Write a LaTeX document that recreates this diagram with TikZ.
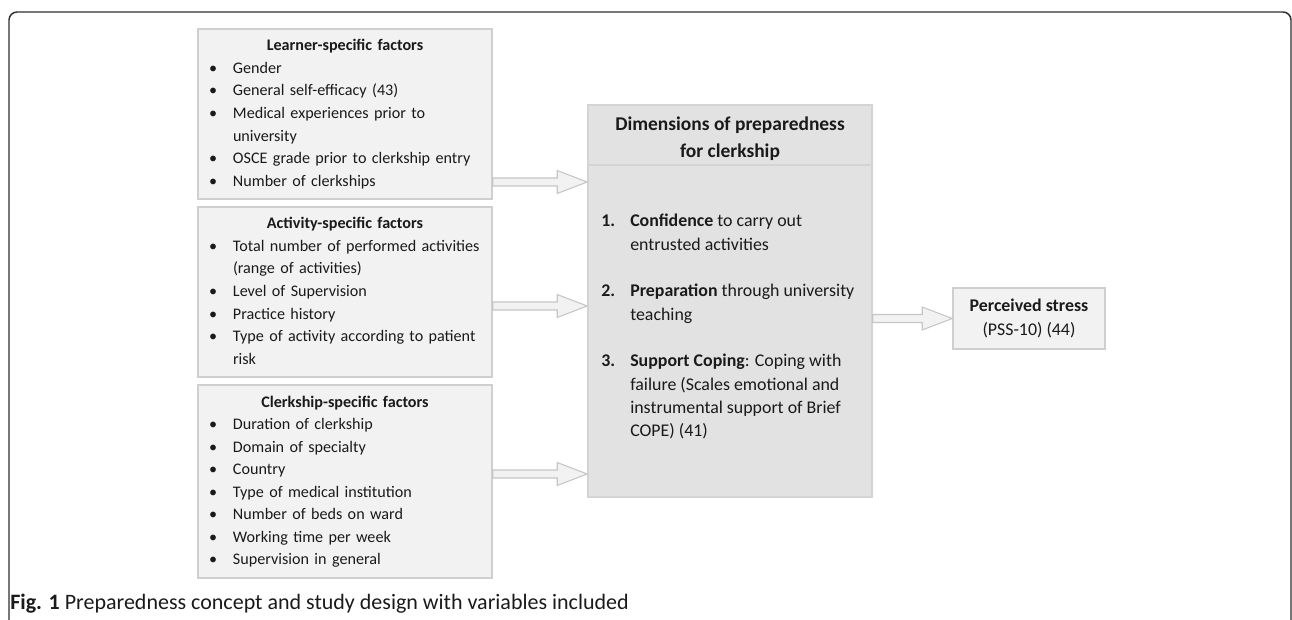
\documentclass[tikz,border=0pt]{standalone}
\usepackage{fontspec}
\setmainfont{Carlito}
\usetikzlibrary{calc}

\definecolor{boxfill}{HTML}{F2F2F2}
\definecolor{boxline}{HTML}{CFCFCF}
\definecolor{dimfill}{HTML}{E2E2E2}
\definecolor{dimline}{HTML}{D4D4D4}
\definecolor{arrfill}{HTML}{F2F2F2}
\definecolor{arrline}{HTML}{C6C6C6}
\definecolor{framecol}{HTML}{2E2E2E}
\definecolor{txt}{HTML}{1A1A1A}

\newcommand{\bul}{\strut\makebox[18pt][l]{\textbullet}}
\newcommand{\cont}{\strut\hspace*{18pt}}
\newcommand{\ftitle}[1]{\strut\makebox[\linewidth][c]{\textbf{#1}}}
\newcommand{\itemno}[1]{\strut\makebox[21.75pt][l]{\textbf{#1}}}
\newcommand{\itemcont}{\strut\hspace*{21.75pt}}

\begin{document}
\begin{tikzpicture}[x=0.75pt, y=-0.75pt, text=txt]
\tikzstyle{factor}=[draw=boxline, fill=boxfill, line width=1.1pt, minimum width=220.5pt,
  text width=204pt, inner xsep=8.25pt, inner ysep=0pt, align=left,
  font=\fontsize{12.1}{16.9}\selectfont]
\tikzstyle{dimbox}=[draw=dimline, fill=dimfill, line width=1.1pt, minimum width=213pt, minimum height=294pt]
\tikzstyle{stressbox}=[draw=boxline, fill=boxfill, line width=1.1pt, minimum width=114pt,
  minimum height=45.75pt, align=center, font=\fontsize{13.4}{18}\selectfont]
\tikzstyle{fatarrow}=[draw=arrline, fill=arrfill, line width=0.8pt,
  to path={let \p1=(\tikztostart), \p2=(\tikztotarget) in
    (\x1,\y1+3pt) -- (\x2-22.5pt,\y1+3pt) -- (\x2-22.5pt,\y1+8.6pt) -- (\x2,\y1)
    -- (\x2-22.5pt,\y1-8.6pt) -- (\x2-22.5pt,\y1-3pt) -- (\x1,\y1-3pt) -- cycle}]
\useasboundingbox (0,0) rectangle (1292,620);
% outer frame
\draw[framecol, line width=1.1pt, rounded corners=6pt] (9,640) -- (9,12) -- (1291,12) -- (1291,640);
% factor boxes
\node[factor, minimum height=127.5pt] (learner) at (345,114) {%
\ftitle{Learner-specific factors}\\
\bul Gender\\
\bul General self-efficacy (43)\\
\bul Medical experiences prior to\\
\cont university\\
\bul OSCE grade prior to clerkship entry\\
\bul Number of clerkships};
\node[factor, minimum height=127.5pt] (activity) at (345,292) {%
\ftitle{Activity-specific factors}\\
\bul Total number of performed activities\\
\cont (range of activities)\\
\bul Level of Supervision\\
\bul Practice history\\
\bul Type of activity according to patient\\
\cont risk};
\node[factor, minimum height=144.75pt] (clerkship) at (345,481.5) {%
\ftitle{Clerkship-specific factors}\\
\bul Duration of clerkship\\
\bul Domain of specialty\\
\bul Country\\
\bul Type of medical institution\\
\bul Number of beds on ward\\
\bul Working time per week\\
\bul Supervision in general};
% dimensions
\node[dimbox] (dims) at (730,301) {};
\coordinate (sep) at (0,165);
\draw[dimline, line width=1.1pt] (dims.west |- sep) -- (dims.east |- sep);
\node[align=center, font=\fontsize{14.6}{20.25}\selectfont\bfseries] (dimsT) at (730,138.5)
  {\strut Dimensions of preparedness\\\strut for clerkship};
\node[align=left, anchor=west, inner sep=0pt, font=\fontsize{13.4}{17.5}\selectfont] (dimsL) at (601,327) {%
\itemno{1.}\textbf{Confidence} to carry out\\
\itemcont entrusted activities\\
\strut\\
\itemno{2.}\textbf{Preparation} through university\\
\itemcont teaching\\
\strut\\
\itemno{3.}\textbf{Support Coping}: Coping with\\
\itemcont failure (Scales emotional and\\
\itemcont instrumental support of Brief\\
\itemcont COPE) (41)};
\node[stressbox] (stress) at (1029,318.5) {\textbf{Perceived stress}\\(PSS-10) (44)};
% arrows
\coordinate (a1) at (0,182);
\coordinate (a2) at (0,306);
\coordinate (a3) at (0,474);
\draw[fatarrow] (learner.east |- a1) to (dims.west |- a1);
\draw[fatarrow] (activity.east |- a2) to (dims.west |- a2);
\draw[fatarrow] (clerkship.east |- a3) to (dims.west |- a3);
\draw[fatarrow] (dims.east |- stress.west) to (stress.west);
% caption
\node[anchor=base west, inner sep=0pt, font=\fontsize{16.5}{20}\selectfont] (cap) at (10,609)
  {\textbf{Fig. 1} Preparedness concept and study design with variables included};
\end{tikzpicture}
\end{document}
